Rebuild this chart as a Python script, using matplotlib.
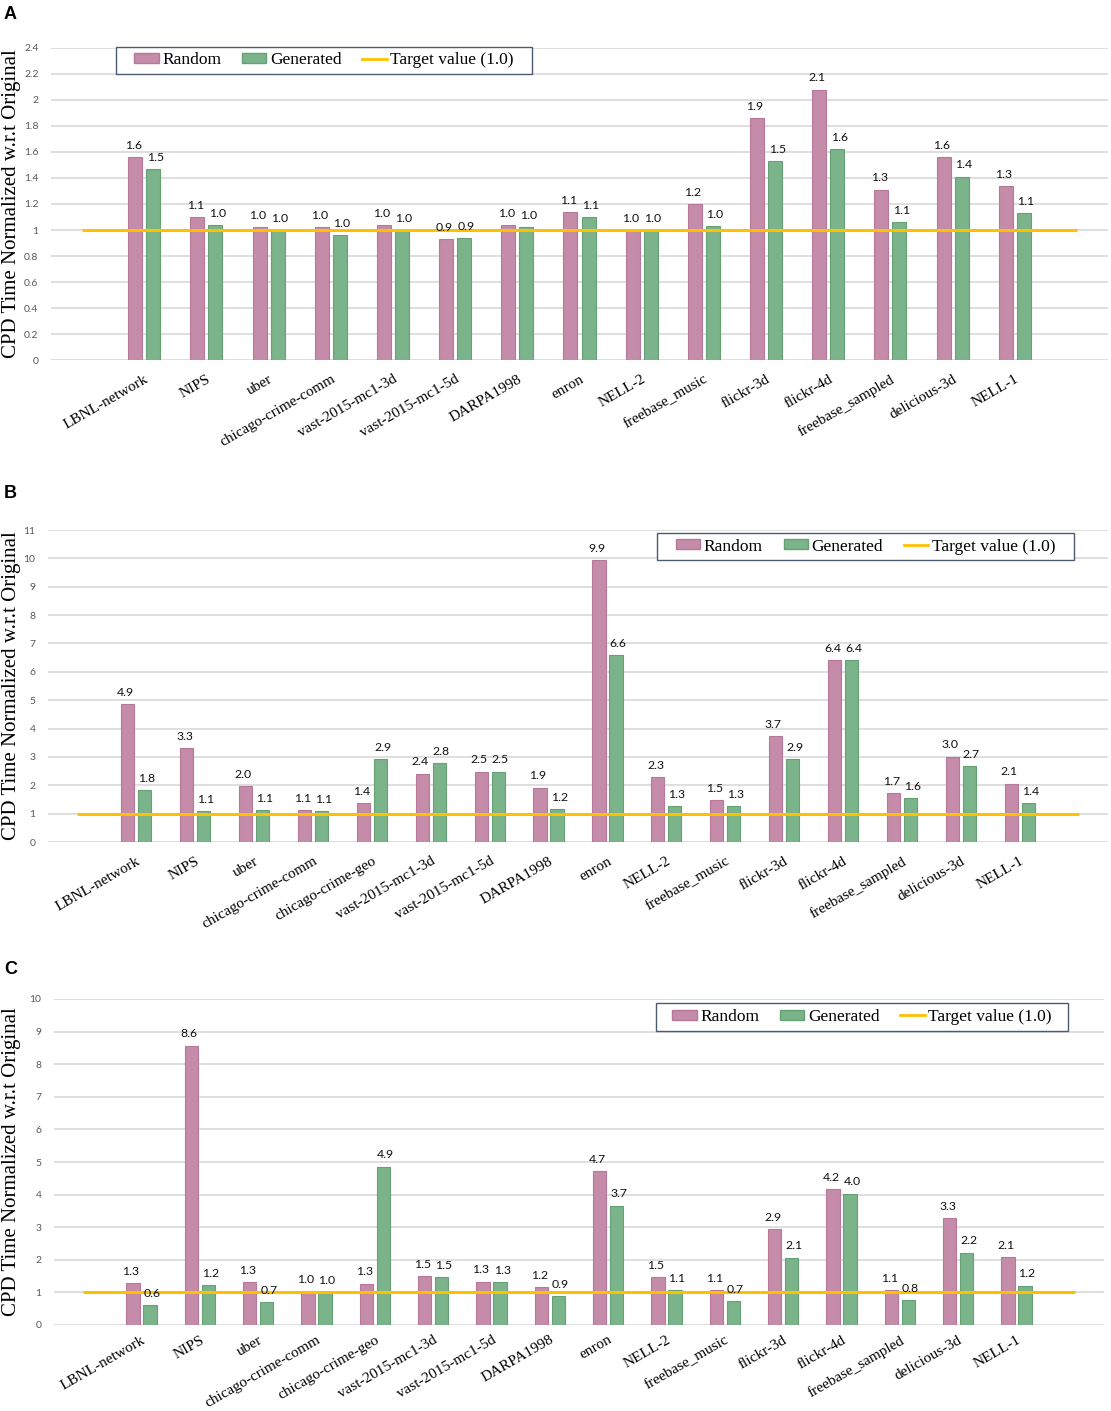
import numpy as np
import matplotlib
matplotlib.use("Agg")
import matplotlib.pyplot as plt
from matplotlib.patches import Patch, Rectangle
from matplotlib.lines import Line2D

# categories
cats_a = ["LBNL-network", "NIPS", "uber", "chicago-crime-comm", "vast-2015-mc1-3d",
          "vast-2015-mc1-5d", "DARPA1998", "enron", "NELL-2", "freebase_music",
          "flickr-3d", "flickr-4d", "freebase_sampled", "delicious-3d", "NELL-1"]
cats_bc = ["LBNL-network", "NIPS", "uber", "chicago-crime-comm", "chicago-crime-geo",
           "vast-2015-mc1-3d", "vast-2015-mc1-5d", "DARPA1998", "enron", "NELL-2",
           "freebase_music", "flickr-3d", "flickr-4d", "freebase_sampled", "delicious-3d", "NELL-1"]

# panel A
random_a = [1.56, 1.10, 1.02, 1.02, 1.04, 0.93, 1.04, 1.14, 1.00, 1.20, 1.86, 2.08, 1.31, 1.56, 1.34]
generated_a = [1.47, 1.04, 1.00, 0.96, 1.00, 0.94, 1.02, 1.10, 1.00, 1.03, 1.53, 1.62, 1.06, 1.41, 1.13]

# panel B
random_b = [4.87, 3.31, 1.98, 1.12, 1.36, 2.41, 2.48, 1.92, 9.94, 2.29, 1.47, 3.72, 6.41, 1.73, 3.01, 2.06]
generated_b = [1.84, 1.08, 1.12, 1.08, 2.93, 2.79, 2.48, 1.16, 6.60, 1.27, 1.27, 2.93, 6.40, 1.56, 2.67, 1.36]

# panel C
random_c = [1.28, 8.57, 1.32, 1.04, 1.27, 1.50, 1.33, 1.16, 4.73, 1.46, 1.06, 2.93, 4.17, 1.08, 3.27, 2.09]
generated_c = [0.60, 1.22, 0.70, 1.00, 4.86, 1.46, 1.31, 0.88, 3.66, 1.07, 0.73, 2.07, 4.03, 0.76, 2.22, 1.21]

TARGET = 1.0

PINK = "#C48CA9"
PINK_EDGE = "#B7789A"
GREEN = "#7BB38A"
GREEN_EDGE = "#66A176"
GOLD = "#FFC000"
GRID = "#D9D9D9"
SERIF = "Liberation Serif"
SANS = "Lato"

W, H = 1111, 1411


def draw_panel(fig, rect, cats, rnd, gen, ymax, ystep, leg_box, letter, letter_y, xpad=9):
    ax = fig.add_axes(rect)
    n = len(cats)
    x = np.arange(1, n + 1)
    off, bw = 0.145, 0.225

    ax.bar(x - off, rnd, width=bw, color=PINK, edgecolor=PINK_EDGE, linewidth=0.8, zorder=2)
    ax.bar(x + off, gen, width=bw, color=GREEN, edgecolor=GREEN_EDGE, linewidth=0.8, zorder=2)
    tx = np.arange(0, n + 2)
    ax.plot(tx, np.full(len(tx), TARGET), color=GOLD, lw=2.2, zorder=3, solid_capstyle="butt")

    # value labels, nudged slightly apart like Excel does
    for xi, v in zip(x - off, rnd):
        ax.annotate(f"{v:.1f}", (xi, v), xytext=(-1.5, 4.5), textcoords="offset points",
                    ha="center", va="bottom", fontsize=8.8, family=SANS, color="#111111")
    for xi, v in zip(x + off, gen):
        ax.annotate(f"{v:.1f}", (xi, v), xytext=(1.5, 4.5), textcoords="offset points",
                    ha="center", va="bottom", fontsize=8.8, family=SANS, color="#111111")

    ax.set_xlim(-0.5, n + 1.5)
    ax.set_ylim(0, ymax)
    yt = np.round(np.arange(0, ymax + ystep / 2, ystep), 2)
    ax.set_yticks(yt)
    ax.set_yticklabels([f"{v:g}" for v in yt], family=SANS, fontsize=7.5, color="#595959")
    ax.set_xticks(x)
    ax.set_xticklabels(cats, rotation=30, ha="right", rotation_mode="anchor",
                       family=SERIF, fontsize=11)
    ax.tick_params(axis="both", length=0)
    ax.tick_params(axis="y", pad=9)
    ax.tick_params(axis="x", pad=xpad)
    for s in ax.spines.values():
        s.set_visible(False)
    ax.yaxis.grid(True, color=GRID, lw=1.2, zorder=0)
    ax.set_axisbelow(True)

    # legend with Excel-like frame
    x0, y0, x1, y1 = leg_box
    ax.add_patch(Rectangle((x0, y0), x1 - x0, y1 - y0, transform=ax.transAxes,
                           facecolor="white", edgecolor="#4A5A70", lw=1.0,
                           zorder=5, clip_on=False))
    handles = [Patch(facecolor=PINK, edgecolor=PINK_EDGE),
               Patch(facecolor=GREEN, edgecolor=GREEN_EDGE),
               Line2D([], [], color=GOLD, lw=2)]
    leg = ax.legend(handles, ["Random", "Generated", "Target value (1.0)"],
                    loc="center", bbox_to_anchor=((x0 + x1) / 2, (y0 + y1) / 2),
                    ncol=3, frameon=False, prop={"family": SERIF, "size": 12.5},
                    handlelength=1.4, handleheight=0.5, handletextpad=0.2,
                    columnspacing=1.2, borderpad=0.0)
    leg.set_zorder(6)

    # y label and panel letter
    cy = rect[1] + rect[3] / 2
    fig.text(12 / W, cy, "CPD Time Normalized w.r.t Original", rotation=90,
             ha="center", va="center", family=SERIF, fontsize=15)
    fig.text(4 / W, 1 - letter_y / H, letter, ha="left", va="top",
             family="Liberation Sans", fontweight="bold", fontsize=13)
    return ax


fig = plt.figure(figsize=(W / 100, H / 100), dpi=100)

draw_panel(fig, [51 / W, 1 - 360 / H, 1057 / W, 312 / H], cats_a, random_a, generated_a,
           2.4, 0.2, (0.0615, 0.918, 0.455, 1.003), "A", 6)
draw_panel(fig, [48 / W, 1 - 842 / H, 1060 / W, 312 / H], cats_bc, random_b, generated_b,
           11, 1, (0.5745, 0.904, 0.968, 0.990), "B", 485)
draw_panel(fig, [54 / W, 1 - 1325 / H, 1050 / W, 326 / H], cats_bc, random_c, generated_c,
           10, 1, (0.573, 0.902, 0.966, 0.988), "C", 961, xpad=6)

fig.savefig("out.png", dpi=100, facecolor="white")
